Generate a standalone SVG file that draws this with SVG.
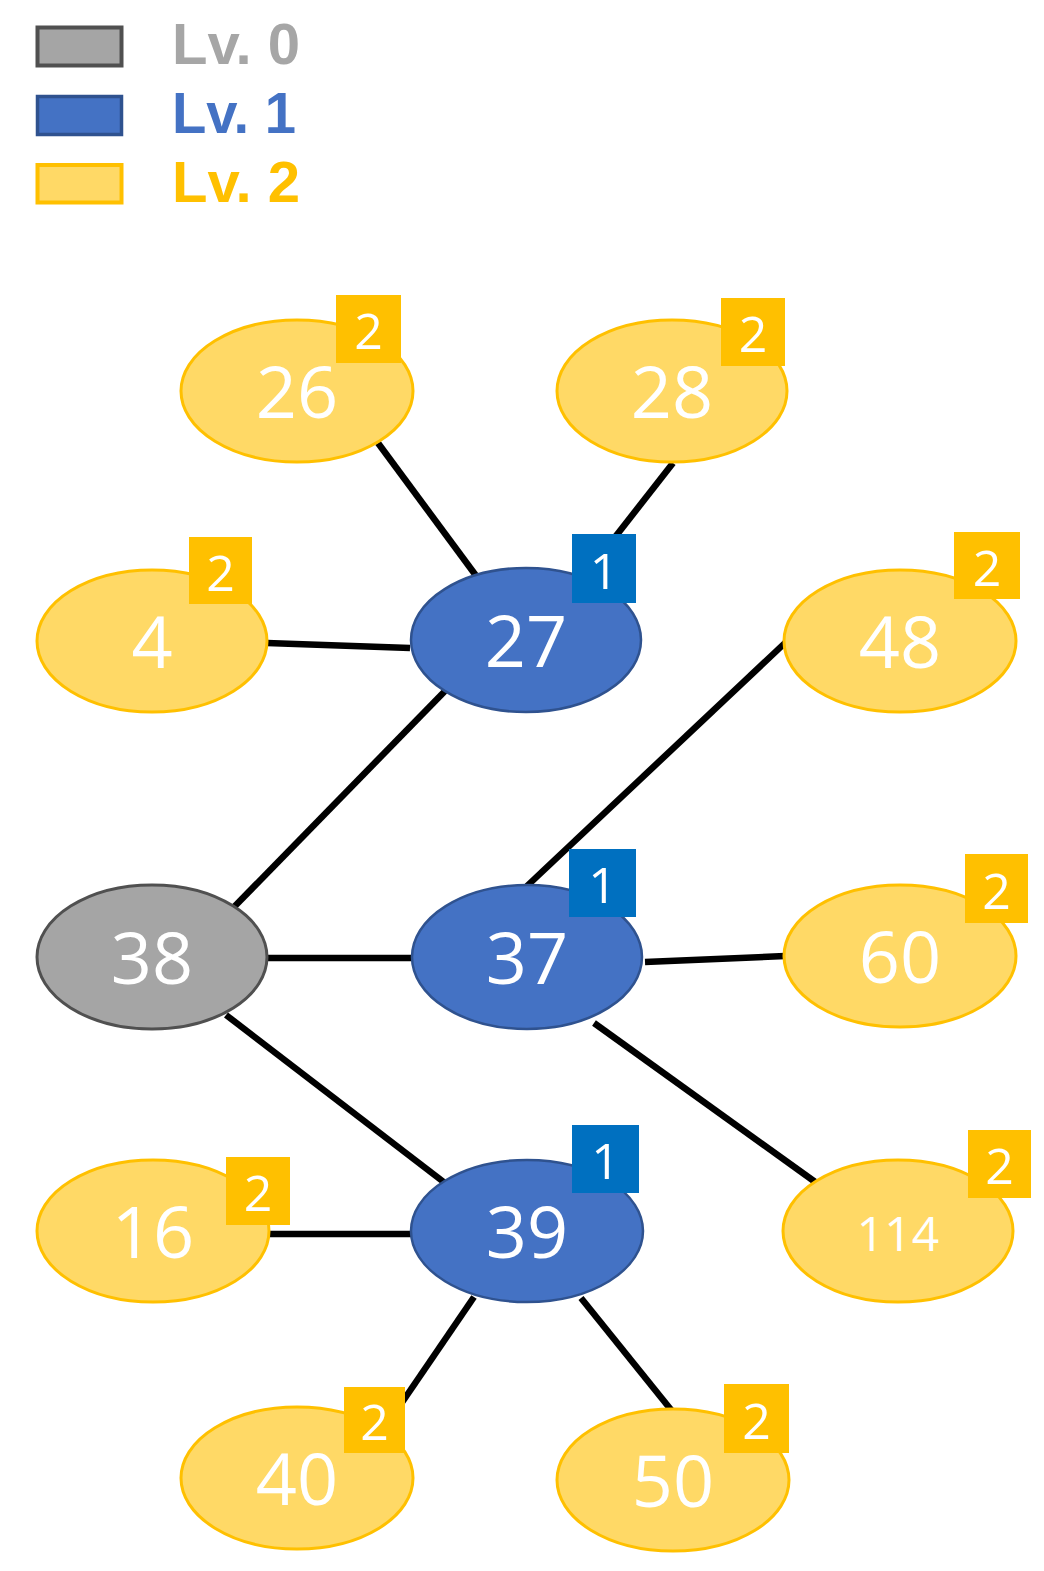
<svg xmlns="http://www.w3.org/2000/svg" width="1044" height="1571" viewBox="0 0 1044 1571">
<style>
.lg{font-family:"Liberation Sans","Arial",sans-serif;font-weight:700;font-size:57px}
.e0{fill:#A5A5A5;stroke:#505050;stroke-width:3}
.e1{fill:#4472C4;stroke:#2F528F;stroke-width:2.5}
.e2{fill:#FFD966;stroke:#FFC000;stroke-width:3}
.b1{fill:#0070C0}
.b2{fill:#FFC000}
.t{font-family:"Open Sans","Noto Sans",sans-serif;fill:#FFFFFF;text-anchor:middle;font-size:72px}
.ts{font-family:"Open Sans","Noto Sans",sans-serif;fill:#FFFFFF;text-anchor:middle;font-size:48px}
.bt{font-family:"Open Sans","Noto Sans",sans-serif;fill:#FFFFFF;text-anchor:middle;font-size:50px}
.c{stroke:#000000;stroke-width:6.5;fill:none;stroke-linecap:butt}
</style>
<rect width="1044" height="1571" fill="#FFFFFF"/>
<g id="legend">
<rect x="37.5" y="27.5" width="84" height="38" fill="#A5A5A5" stroke="#505050" stroke-width="4"/>
<rect x="37.5" y="96.5" width="84" height="38" fill="#4472C4" stroke="#2F528F" stroke-width="3.5"/>
<rect x="37.5" y="165" width="84" height="37.5" fill="#FFD966" stroke="#FFC000" stroke-width="4"/>
<text class="lg" x="172" y="64" fill="#A6A6A6" textLength="128" lengthAdjust="spacingAndGlyphs">Lv. 0</text>
<text class="lg" x="172" y="133" fill="#4472C4" textLength="124" lengthAdjust="spacingAndGlyphs">Lv. 1</text>
<text class="lg" x="172" y="202" fill="#FFC000" textLength="128" lengthAdjust="spacingAndGlyphs">Lv. 2</text>
</g>
<g id="connectors">
<line class="c" x1="378" y1="443" x2="477" y2="577"/>
<line class="c" x1="673" y1="463" x2="612" y2="541"/>
<line class="c" x1="267" y1="643" x2="410" y2="648"/>
<line class="c" x1="445" y1="691" x2="234" y2="907"/>
<line class="c" x1="786" y1="642" x2="527" y2="886"/>
<line class="c" x1="267" y1="958" x2="412" y2="958"/>
<line class="c" x1="645" y1="962" x2="785" y2="956"/>
<line class="c" x1="226" y1="1015" x2="445" y2="1183"/>
<line class="c" x1="594" y1="1023" x2="818" y2="1184"/>
<line class="c" x1="269" y1="1234" x2="411" y2="1234"/>
<line class="c" x1="474" y1="1297" x2="390" y2="1420"/>
<line class="c" x1="581" y1="1298" x2="672" y2="1411"/>
</g>
<g id="n26"><ellipse class="e2" cx="297" cy="391" rx="116" ry="71"/><text class="t" x="297" y="418">26</text><rect class="b2" x="336" y="295" width="65" height="68"/><text class="bt" x="368.5" y="349">2</text></g>
<g id="n28"><ellipse class="e2" cx="672" cy="391" rx="115" ry="71"/><text class="t" x="672" y="418">28</text><rect class="b2" x="721" y="298" width="64" height="68"/><text class="bt" x="753" y="352">2</text></g>
<g id="n4"><ellipse class="e2" cx="152" cy="641" rx="115" ry="71"/><text class="t" x="152" y="668">4</text><rect class="b2" x="189" y="537" width="63" height="67"/><text class="bt" x="220.5" y="591">2</text></g>
<g id="n27"><ellipse class="e1" cx="526" cy="640" rx="115" ry="72"/><text class="t" x="526" y="667">27</text><rect class="b1" x="572" y="534" width="64" height="69"/><text class="bt" x="604" y="589">1</text></g>
<g id="n48"><ellipse class="e2" cx="900" cy="641" rx="116" ry="71"/><text class="t" x="900" y="668">48</text><rect class="b2" x="954" y="532" width="66" height="67"/><text class="bt" x="987" y="586">2</text></g>
<g id="n38"><ellipse class="e0" cx="152" cy="957" rx="115" ry="72"/><text class="t" x="152" y="984">38</text></g>
<g id="n37"><ellipse class="e1" cx="527" cy="957" rx="115" ry="72"/><text class="t" x="527" y="984">37</text><rect class="b1" x="569" y="849" width="67" height="68"/><text class="bt" x="602.5" y="903">1</text></g>
<g id="n60"><ellipse class="e2" cx="900" cy="956" rx="116" ry="71"/><text class="t" x="900" y="983">60</text><rect class="b2" x="965" y="854" width="63" height="69"/><text class="bt" x="996.5" y="909">2</text></g>
<g id="n16"><ellipse class="e2" cx="153" cy="1231" rx="116" ry="71"/><text class="t" x="153" y="1258">16</text><rect class="b2" x="226" y="1157" width="64" height="68"/><text class="bt" x="258" y="1211">2</text></g>
<g id="n39"><ellipse class="e1" cx="527" cy="1231" rx="116" ry="71"/><text class="t" x="527" y="1258">39</text><rect class="b1" x="572" y="1125" width="67" height="68"/><text class="bt" x="605.5" y="1179">1</text></g>
<g id="n114"><ellipse class="e2" cx="898" cy="1231" rx="115" ry="71"/><text class="ts" x="898" y="1251">114</text><rect class="b2" x="968" y="1130" width="63" height="68"/><text class="bt" x="999.5" y="1184">2</text></g>
<g id="n40"><ellipse class="e2" cx="297" cy="1478" rx="116" ry="71"/><text class="t" x="297" y="1505">40</text><rect class="b2" x="344" y="1387" width="61" height="66"/><text class="bt" x="374.5" y="1440">2</text></g>
<g id="n50"><ellipse class="e2" cx="673" cy="1480" rx="116" ry="71"/><text class="t" x="673" y="1507">50</text><rect class="b2" x="724" y="1384" width="65" height="69"/><text class="bt" x="756.5" y="1439">2</text></g>
</svg>
